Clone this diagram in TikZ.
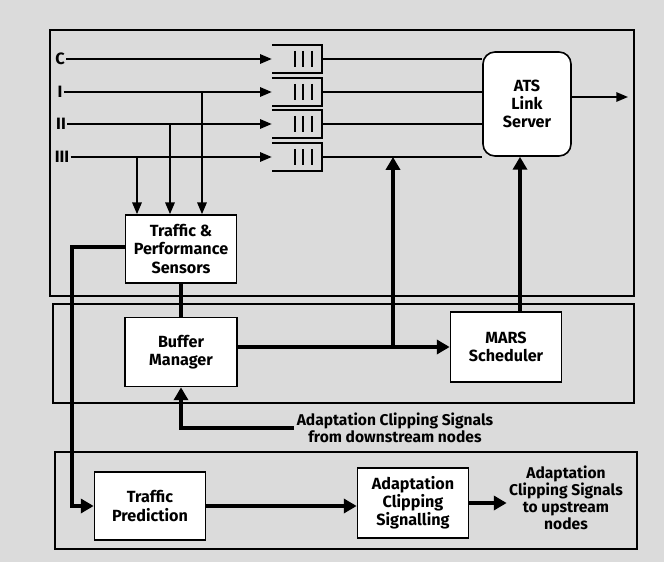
\documentclass[tikz,border=0pt]{standalone}
\usepackage{fontspec}
\setmainfont{Fira Sans}
\usetikzlibrary{positioning,arrows.meta}

\begin{document}
\begin{tikzpicture}[x=0.03cm,y=-0.03cm,>={Triangle[length=10pt,width=8pt]},
  panel/.style={draw,line width=1.3pt,fill=gray!28},
  blk/.style={draw,line width=1.4pt,fill=white,align=center,font=\fontsize{13.8}{15.5}\selectfont\bfseries,inner sep=2pt},
  lbl/.style={font=\fontsize{14}{16}\selectfont\bfseries,inner sep=1pt},
  txt/.style={align=center,font=\fontsize{13.3}{14.5}\selectfont\bfseries,inner sep=2pt},
  sigline/.style={line width=1.6pt},
  fat/.style={line width=3.8pt},
  fatarr/.style={fat,-{Triangle[length=11pt,width=12pt]}},
  queue/.style={minimum width=1.5cm,minimum height=0.81cm,inner sep=0pt}]
\useasboundingbox (0,0) rectangle (664,562);
\fill[gray!28] (0,0) rectangle (664,562);
% the three layers
\draw[panel] (50,30) rectangle (634,296);
\draw[panel] (53,304) rectangle (634,403);
\draw[panel] (55,452) rectangle (637,549);
% queues
\foreach \q/\y in {C/59,I/92,II/124,III/157}{
  \node[queue] (q\q) at (297,\y) {};
  \draw[sigline] (q\q.north west) -- (q\q.north east) -- (q\q.south east) -- (q\q.south west);
  \foreach \bx in {295,303,312}
    \draw[line width=1.4pt] (\bx,\y-8) -- (\bx,\y+8);
}
\node[lbl] (inC) at (60,59) {C};
\node[lbl] (inI) at (60,92) {I};
\node[lbl] (inII) at (61,124) {II};
\node[lbl] (inIII) at (62,157) {III};
% nodes
\node[blk,minimum width=3.33cm,minimum height=2.04cm] (sens) at (181,249) {Traffic \&\\Performance\\Sensors};
\node[blk,minimum width=3.36cm,minimum height=2.07cm] (buf) at (181,352) {Buffer\\Manager};
\node[blk,minimum width=3.33cm,minimum height=2.1cm] (mars) at (506,347) {MARS\\Scheduler};
\node[blk,rounded corners=0.36cm,minimum width=2.64cm,minimum height=3.12cm] (ats) at (527,104) {ATS\\Link\\Server};
\node[blk,minimum width=3.33cm,minimum height=2.04cm] (pred) at (150,506) {Traffic\\Prediction};
\node[blk,minimum width=3.33cm,minimum height=2.1cm] (acs) at (413,503) {Adaptation\\Clipping\\Signalling};
\node[txt] (down) at (395,428) {Adaptation Clipping Signals\\from downstream nodes};
\node[txt] (up) at (566,498) {Adaptation\\Clipping Signals\\to upstream\\nodes};
\coordinate (out) at (628,97);
% inputs to the queues
\foreach \q in {C,I,II,III}{
  \draw[sigline,->] (in\q) -- (q\q.west);
  \draw[sigline] (q\q.east) -- (q\q.east -| ats.west);
}
\foreach \q/\x in {III/137,II/170,I/202}
  \draw[sigline,->] (\x,0 |- q\q) -- (\x,0 |- sens.north);
\draw[sigline,->] (ats.east |- out) -- (out);
% control paths
\draw[fat] (sens.south) -- (buf.north);
\draw[fatarr] (sens.west |- 0,247) -- (72,247) |- (pred.west);
\draw[fatarr] (buf.east |- mars.west) -- (mars.west);
\coordinate (br) at (393,0 |- mars.west);
\draw[fatarr] (br) -- (br |- qIII.east);
\draw[fatarr] (520,0 |- mars.north) -- (520,0 |- ats.south);
\draw[fatarr] (down.west) -| (buf.south);
\draw[fatarr] (pred.east) -- (pred.east -| acs.west);
\draw[fatarr] (acs.east) -- (acs.east -| up.west);
\end{tikzpicture}
\end{document}
